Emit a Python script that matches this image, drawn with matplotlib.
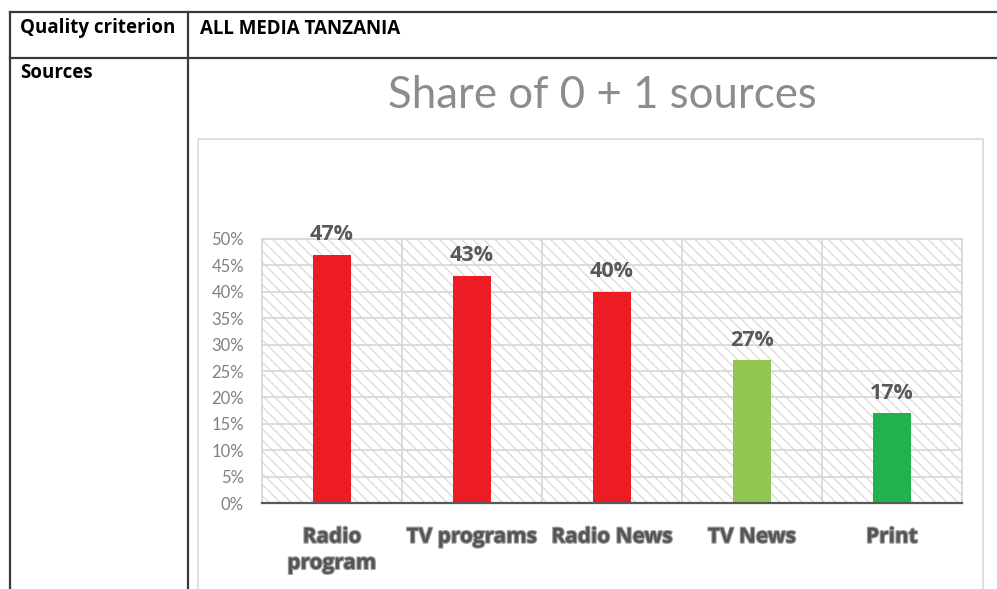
import matplotlib
matplotlib.use("Agg")
import matplotlib.pyplot as plt
import matplotlib.patheffects as pe
from matplotlib.patches import Rectangle
from matplotlib.lines import Line2D
from matplotlib.ticker import FixedLocator, PercentFormatter

plt.rcParams['font.family'] = ['Lato', 'DejaVu Sans']
plt.rcParams['hatch.linewidth'] = 0.9
plt.rcParams['hatch.color'] = '#d9d9d9'
BOLD = ['Open Sans', 'DejaVu Sans']

# ---- data ----
categories = ["Radio\nprogram", "TV programs", "Radio News", "TV News", "Print"]
values = [47, 43, 40, 27, 17]
bar_colors = ["#ED1C24", "#ED1C24", "#ED1C24", "#92C650", "#22B14C"]
y_ticks = [0, 5, 10, 15, 20, 25, 30, 35, 40, 45, 50]
title = "Share of 0 + 1 sources"
header_left = "Quality criterion"
header_right = "ALL MEDIA TANZANIA"
row_label = "Sources"

W, H = 997, 589
fig = plt.figure(figsize=(W / 100, H / 100), dpi=100)
fig.patch.set_facecolor('white')

bg = fig.add_axes([0, 0, 1, 1], zorder=0)
bg.set_xlim(0, W)
bg.set_ylim(H, 0)
bg.axis('off')

tbl = '#3a3a3a'
lw_t = 1.6
bg.add_line(Line2D([10, W], [12, 12], color=tbl, lw=lw_t))
bg.add_line(Line2D([10, W], [58, 58], color=tbl, lw=lw_t))
bg.add_line(Line2D([10, 10], [12, H], color=tbl, lw=lw_t))
bg.add_line(Line2D([188, 188], [12, H], color=tbl, lw=lw_t))

hdr = dict(fontsize=13.5, fontweight='bold', color='black', va='center', ha='left', family=BOLD)
bg.text(20, 28.5, header_left, **hdr)
bg.text(200, 28.5, header_right, **hdr)
bg.text(20, 73, row_label, **hdr)

bg.add_patch(Rectangle((198, 139), 983 - 198, H + 10 - 139, fill=False, edgecolor='#d9d9d9', lw=1.2))
bg.text(602, 96, title, fontsize=31.5, color='#8c8c8c', va='center', ha='center')

left, right, top, bottom = 262, 962, 239, 503
ax = fig.add_axes([left / W, (H - bottom) / H, (right - left) / W, (bottom - top) / H], zorder=2)
ax.set_facecolor('white')
ax.add_patch(Rectangle((0, 0), 1, 1, transform=ax.transAxes, facecolor='white',
                       edgecolor='#d9d9d9', lw=0, hatch='\\\\\\', zorder=0))

x = list(range(len(categories)))
bars = ax.bar(x, values, width=0.27, color=bar_colors, zorder=3)

ax.set_xlim(-0.5, len(categories) - 0.5)
ax.set_ylim(0, 50)
ax.yaxis.set_major_locator(FixedLocator(y_ticks))
ax.yaxis.set_major_formatter(PercentFormatter(decimals=0))
ax.set_xticks(x)
shadow = [pe.withStroke(linewidth=1.6, foreground='#a0a0a0')]
ax.set_xticklabels(categories, fontsize=15, fontweight='bold', color='#555555',
                   family=BOLD, linespacing=1.33, path_effects=shadow)
ax.xaxis.set_minor_locator(FixedLocator([i + 0.5 for i in x[:-1]]))
ax.tick_params(axis='x', which='both', length=0, pad=17)
ax.tick_params(axis='y', length=0, pad=13, labelsize=12, labelcolor='#808080')

ax.grid(True, axis='y', which='major', color='#d9d9d9', lw=1.3, zorder=1)
ax.grid(True, axis='x', which='minor', color='#d9d9d9', lw=1.3, zorder=1)
ax.set_axisbelow(True)

for s in ['left', 'right', 'top']:
    ax.spines[s].set_color('#d9d9d9')
    ax.spines[s].set_linewidth(1.3)
ax.spines['bottom'].set_color('#595959')
ax.spines['bottom'].set_linewidth(1.6)
ax.spines['bottom'].set_zorder(4)

for b, v in zip(bars, values):
    ax.annotate(f"{v}%", (b.get_x() + b.get_width() / 2, v), xytext=(0, 10.5),
                textcoords='offset points', ha='center', va='baseline',
                fontsize=15.5, fontweight='bold', color='#595959', zorder=5,
                family=BOLD, annotation_clip=False)

fig.savefig("out.png", dpi=100, facecolor='white')
